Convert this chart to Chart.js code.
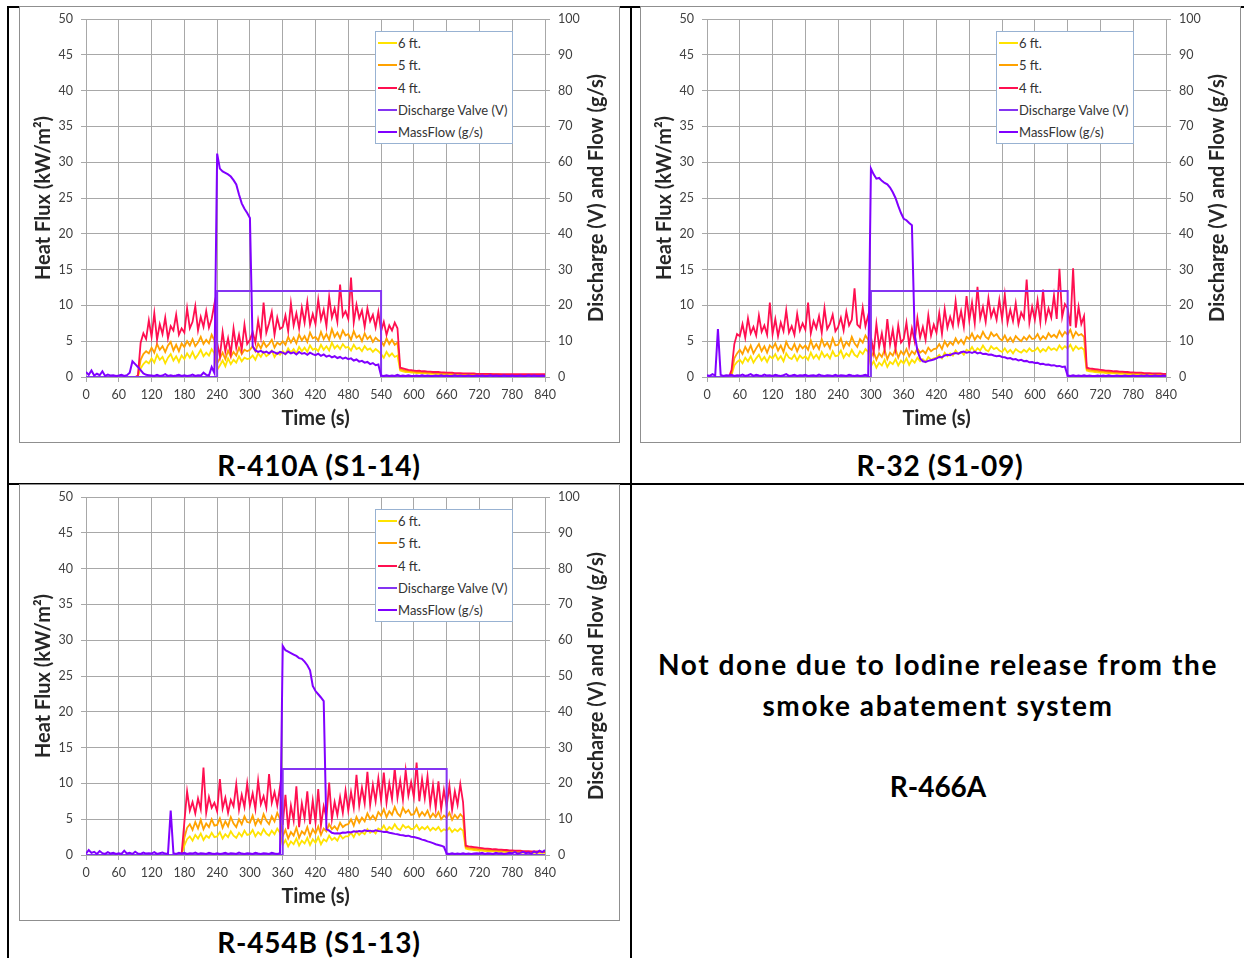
<!DOCTYPE html>
<html>
<head>
<meta charset="utf-8">
<script src="https://cdn.jsdelivr.net/npm/chart.js@4.4.1/dist/chart.umd.min.js"></script>
<style>
  body { margin: 0; width: 1244px; height: 958px; position: relative; overflow: hidden; background: #fff; font-family: Lato, "Open Sans", sans-serif; }
  .rule { position: absolute; background: #000; }
  .box { position: absolute; width: 599px; height: 435px; border: 1px solid #8f8f8f; background: #fff; }
  .box canvas { position: absolute; left: 0; top: 0; }
  .legend { position: absolute; left: 355px; top: 24px; width: 136px; height: 111px; border: 1px solid #98b2d2; background: #fff; font-size: 13px; color: #333; }
  .legend .item { height: 22.3px; display: flex; align-items: center; white-space: nowrap; }
  .legend .swatch { width: 19px; height: 2px; margin-left: 2px; margin-right: 1px; }
  .caption { position: absolute; font-weight: bold; font-size: 28px; line-height: 34px; color: #000; text-align: center; white-space: nowrap; }
  .caption.chart { letter-spacing: 0.8px; }
  .caption.note { letter-spacing: 1.6px; }
</style>
</head>
<body>

<div class="rule" style="left:7px;top:6px;width:2px;height:952px"></div>
<div class="rule" style="left:7px;top:6px;width:1237px;height:2px"></div>
<div class="rule" style="left:630px;top:6px;width:2px;height:952px"></div>
<div class="rule" style="left:7px;top:483px;width:1237px;height:2px"></div>

<div class="box" style="left:19px;top:6px"><canvas id="c410" width="599" height="435"></canvas><div class="legend" id="l410"></div></div>
<div class="box" style="left:640px;top:6px"><canvas id="c32" width="599" height="435"></canvas><div class="legend" id="l32"></div></div>
<div class="box" style="left:19px;top:484px"><canvas id="c454" width="599" height="435"></canvas><div class="legend" id="l454"></div></div>

<div class="caption chart" style="left:19px;width:600px;top:448px">R-410A (S1-14)</div>
<div class="caption chart" style="left:640px;width:600px;top:448px">R-32 (S1-09)</div>
<div class="caption chart" style="left:19px;width:600px;top:925px">R-454B (S1-13)</div>

<div class="caption note" style="left:632px;width:612px;top:647px">Not done due to Iodine release from the</div>
<div class="caption note" style="left:632px;width:612px;top:688px">smoke abatement system</div>
<div class="caption" style="left:632px;width:612px;top:769px">R-466A</div>

<script>
// time base, seconds (one row = one minute)
const times = [
  0,5,10,15,20,25,30,35,40,45,50,55,
  60,65,70,75,80,85,90,95,100,105,110,115,
  120,125,130,135,140,145,150,155,160,165,170,175,
  180,185,190,195,200,205,210,215,220,225,230,235,
  240,245,250,255,260,265,270,275,280,285,290,295,
  300,305,310,315,320,325,330,335,340,345,350,355,
  360,365,370,375,380,385,390,395,400,405,410,415,
  420,425,430,435,440,445,450,455,460,465,470,475,
  480,485,490,495,500,505,510,515,520,525,530,535,
  540,545,550,555,560,565,570,575,580,585,590,595,
  600,605,610,615,620,625,630,635,640,645,650,655,
  660,665,670,675,680,685,690,695,700,705,710,715,
  720,725,730,735,740,745,750,755,760,765,770,775,
  780,785,790,795,800,805,810,815,820,825,830,835,
  840
];

const timeTicks = [0,60,120,180,240,300,360,420,480,540,600,660,720,780,840];
const heatFluxTicks = [0,5,10,15,20,25,30,35,40,45,50];
const flowTicks = [0,10,20,30,40,50,60,70,80,90,100];

const seriesLabels = ['6 ft.', '5 ft.', '4 ft.', 'Discharge Valve (V)', 'MassFlow (g/s)'];

// ---- R-410A (S1-14) ----
const r410a6ft = [
  0,0,0,0,0,0,0,0,0,0,0,0,
  0,0,0,0,0,0,0,0.1,1.2,1.8,2.2,1.9,
  2.6,2.0,3.1,2.4,2.8,1.9,2.7,3.2,2.3,2.9,2.1,3.0,
  2.5,3.3,2.7,3.5,2.6,3.1,3.8,2.9,3.4,3.0,3.9,3.3,
  1.0,1.6,2.3,1.5,2.6,1.8,2.4,2.0,2.9,2.2,2.7,2.5,
  2.6,3.0,2.4,3.3,2.8,3.5,2.9,3.2,3.7,2.8,3.4,3.1,
  3.6,3.2,4.0,3.4,3.9,3.3,4.2,3.6,4.1,3.5,4.4,3.8,
  4.0,3.6,4.5,3.8,4.3,3.7,4.8,4.0,4.4,3.9,4.6,4.1,
  4.2,3.7,4.5,3.9,4.1,3.6,4.3,3.8,4.0,3.5,3.9,3.6,
  3.2,2.7,3.5,2.9,3.3,2.8,3.0,0.9,0.8,0.7,0.7,0.6,
  0.6,0.55,0.55,0.5,0.5,0.5,0.45,0.45,0.45,0.4,0.4,0.4,
  0.4,0.4,0.35,0.35,0.35,0.35,0.3,0.3,0.3,0.3,0.3,0.3,
  0.3,0.3,0.3,0.3,0.3,0.3,0.3,0.3,0.25,0.25,0.25,0.25,
  0.25,0.25,0.25,0.25,0.25,0.25,0.25,0.25,0.25,0.25,0.25,0.25,
  0.25
];
const r410a5ft = [
  0,0,0,0,0,0,0,0,0,0,0,0,
  0,0,0,0,0,0,0,0.1,2.4,3.2,3.6,3.3,
  4.1,3.4,4.6,3.8,4.3,3.5,4.4,4.9,3.7,4.5,3.6,4.7,
  4.2,5.0,4.4,5.3,4.3,4.8,5.6,4.6,5.2,4.7,5.9,5.1,
  1.9,2.6,3.4,2.5,3.7,2.8,3.5,3.0,4.1,3.2,3.8,3.6,
  3.8,4.3,3.6,4.7,4.0,4.9,4.2,4.6,5.2,4.1,4.8,4.5,
  5.0,4.5,5.6,4.8,5.5,4.7,5.9,5.1,5.7,4.9,6.2,5.4,
  5.6,5.1,6.3,5.3,6.0,5.2,6.7,5.6,6.2,5.4,6.5,5.8,
  6.0,5.2,6.4,5.5,5.8,5.0,6.1,5.3,5.7,4.9,5.5,5.1,
  5.0,4.4,5.4,4.6,5.2,4.5,4.8,1.1,1.0,0.9,0.85,0.8,
  0.75,0.7,0.7,0.65,0.65,0.6,0.6,0.55,0.55,0.55,0.5,0.5,
  0.5,0.5,0.45,0.45,0.45,0.45,0.4,0.4,0.4,0.4,0.4,0.4,
  0.4,0.4,0.35,0.35,0.35,0.35,0.35,0.35,0.3,0.3,0.3,0.3,
  0.3,0.3,0.3,0.3,0.3,0.3,0.3,0.3,0.3,0.3,0.3,0.3,
  0.3
];
const r410a4ft = [
  0,0,0,0,0,0,0,0,0,0,0,0,
  0,0,0,0,0,0,0,0.2,4.8,6.1,5.3,7.9,
  5.6,8.9,5.2,7.4,6.0,8.3,5.4,7.1,6.5,8.7,5.9,6.8,
  6.2,9.6,6.8,7.7,9.9,6.5,8.4,7.0,9.2,6.9,8.1,10.2,
  4.8,2.9,6.3,3.6,5.4,3.2,6.8,4.1,5.9,3.8,7.3,4.6,
  5.2,6.3,4.8,7.9,5.6,10.4,6.2,7.5,9.1,5.9,8.3,6.7,
  7.0,8.6,6.4,10.3,7.2,8.9,6.8,9.7,7.6,10.5,7.3,8.8,
  7.4,10.8,8.0,9.4,7.1,11.2,8.3,9.6,7.7,12.9,8.5,9.2,
  8.1,13.9,7.6,10.1,8.2,9.3,7.0,9.6,7.8,8.7,6.9,9.1,
  6.4,7.7,5.9,7.2,6.5,7.6,6.8,1.3,1.2,1.1,1.0,0.95,
  0.9,0.85,0.9,0.8,0.8,0.75,0.75,0.7,0.7,0.7,0.65,0.65,
  0.6,0.6,0.6,0.55,0.55,0.55,0.5,0.5,0.5,0.5,0.5,0.45,
  0.45,0.45,0.45,0.45,0.45,0.4,0.4,0.4,0.4,0.4,0.4,0.4,
  0.4,0.4,0.4,0.4,0.4,0.4,0.4,0.4,0.4,0.4,0.4,0.4,
  0.4
];
const r410aFlow = [
  1.4,0.6,1.8,0.4,0.9,0.5,1.6,0.3,0.7,0.4,0.5,0.3,
  0.4,0.6,0.3,0.5,1.2,4.4,3.6,2.8,1.9,1.0,0.6,0.5,
  0.4,0.3,0.6,0.3,0.4,0.8,0.3,0.5,0.3,0.4,0.6,0.3,
  0.5,0.3,0.4,0.7,0.3,0.5,0.4,1.2,0.6,0.4,2.8,1.1,
  62.4,58.2,57.4,57.0,56.6,56.0,55.0,53.8,51.0,48.5,47.0,45.8,
  44.4,8.6,7.4,7.0,7.3,6.8,7.1,6.6,7.2,6.9,6.5,7.0,
  6.8,6.4,7.1,6.6,6.9,6.3,7.0,6.5,6.7,6.2,6.8,6.4,
  6.1,6.5,5.9,6.3,5.7,6.0,5.5,5.8,5.3,5.6,5.1,5.4,
  5.0,5.2,4.6,4.9,4.3,4.5,4.0,4.2,3.6,3.9,3.3,3.5,
  0.4,0.3,0.5,0.3,0.4,0.3,0.6,0.3,0.4,0.3,0.5,0.3,
  0.3,0.4,0.3,0.5,0.3,0.4,0.3,0.3,0.4,0.3,0.5,0.3,
  0.4,0.3,0.3,0.5,0.3,0.4,0.3,0.3,0.4,0.3,0.3,0.4,
  0.3,0.4,0.3,0.3,0.5,0.3,0.4,0.3,0.3,0.4,0.3,0.3,
  0.4,0.3,0.3,0.4,0.3,0.3,0.5,0.3,0.4,0.3,0.3,0.4,
  0.3
];
const r410aValveTimes = [0, 240, 540, 840];
const r410aValveVolts = [0, 24, 0, 0];

// ---- R-32 (S1-09) ----
const r32_6ft = [
  0,0,0,0,0,0,0,0,0,0.3,1.6,2.1,
  2.4,1.9,2.7,2.2,2.9,2.0,2.6,3.1,2.3,2.8,2.1,2.9,
  2.6,3.2,2.4,2.9,2.2,3.3,2.7,2.5,3.1,2.3,3.0,2.6,
  2.9,2.4,3.4,2.6,3.1,2.5,3.5,2.8,3.2,2.6,3.6,2.9,
  3.0,3.7,2.7,3.3,2.9,3.8,3.1,2.8,3.6,3.2,3.9,3.5,
  1.5,2.2,1.3,2.0,1.6,2.4,1.4,2.1,1.8,2.5,1.6,2.3,
  1.9,2.6,1.7,2.4,2.0,2.7,2.2,2.5,2.1,2.8,2.4,2.6,
  2.7,3.1,2.6,3.4,2.9,3.3,3.0,3.7,3.2,3.5,3.1,3.8,
  3.6,4.2,3.5,4.0,3.7,4.4,3.8,3.6,4.3,3.9,4.1,3.7,
  3.5,4.0,3.4,3.8,3.3,3.9,3.6,3.4,3.8,3.5,4.0,3.6,
  3.7,4.1,3.5,3.9,3.6,4.2,3.8,4.0,3.7,4.4,3.9,4.3,
  4.0,4.5,3.7,4.3,3.9,4.1,3.8,0.9,0.8,0.75,0.7,0.65,
  0.6,0.6,0.55,0.55,0.5,0.5,0.5,0.45,0.45,0.45,0.4,0.4,
  0.4,0.4,0.35,0.35,0.35,0.35,0.35,0.3,0.3,0.3,0.3,0.3,
  0.3
];
const r32_5ft = [
  0,0,0,0,0,0,0,0,0,0.5,2.6,3.3,
  3.8,3.2,4.2,3.5,4.4,3.3,4.0,4.6,3.6,4.3,3.4,4.4,
  4.0,4.7,3.7,4.4,3.5,4.9,4.1,3.8,4.6,3.6,4.5,4.0,
  4.4,3.8,5.1,4.0,4.6,3.9,5.3,4.3,4.8,4.0,5.4,4.4,
  4.5,5.4,4.1,4.9,4.4,5.6,4.7,4.2,5.3,4.8,5.8,5.2,
  2.7,3.5,2.4,3.3,2.8,3.8,2.5,3.4,3.0,3.9,2.7,3.6,
  3.1,3.9,2.9,3.6,3.2,4.0,3.4,3.7,3.3,4.1,3.6,3.9,
  4.0,4.6,3.9,5.0,4.3,4.9,4.5,5.4,4.7,5.2,4.6,5.6,
  5.3,6.1,5.2,5.8,5.4,6.3,5.6,5.3,6.2,5.7,6.0,5.4,
  5.1,5.8,5.0,5.5,4.9,5.7,5.3,5.0,5.6,5.2,5.8,5.3,
  5.4,6.0,5.2,5.7,5.3,6.1,5.6,5.9,5.5,6.4,5.7,6.3,
  5.9,6.6,5.5,6.3,5.8,6.0,5.6,1.1,1.0,0.95,0.9,0.85,
  0.8,0.8,0.75,0.7,0.7,0.65,0.65,0.6,0.6,0.6,0.55,0.55,
  0.5,0.5,0.5,0.5,0.45,0.45,0.45,0.45,0.4,0.4,0.4,0.4,
  0.4
];
const r32_4ft = [
  0,0,0,0,0,0,0,0,0,1.0,4.6,6.0,
  5.7,7.4,5.5,8.2,6.1,7.0,5.8,8.6,6.3,7.2,5.9,10.4,
  6.0,8.1,5.7,7.6,6.4,9.3,6.2,7.1,5.9,8.8,6.5,7.5,
  6.6,10.4,6.1,7.8,6.8,8.5,6.2,9.6,6.7,7.4,8.7,6.4,
  7.0,8.3,6.5,9.1,7.2,8.0,12.4,7.3,6.9,9.7,7.1,8.6,
  5.6,3.4,7.4,4.2,6.1,3.8,8.1,4.5,6.6,3.9,7.2,4.8,
  5.3,7.6,4.4,6.8,5.0,8.2,5.5,7.0,5.2,8.6,5.8,7.3,
  6.2,8.9,6.0,9.5,6.9,8.4,7.1,10.6,7.4,9.2,7.0,11.3,
  7.9,10.4,7.5,12.6,8.2,9.8,7.7,11.0,8.4,9.5,8.0,10.8,
  8.1,11.5,7.6,9.4,7.8,10.3,7.4,9.0,8.2,13.6,7.6,9.8,
  8.0,10.7,7.7,12.2,7.9,9.6,8.3,11.4,8.1,15.1,8.4,10.2,
  9.6,7.1,15.2,6.9,9.8,7.4,8.5,1.3,1.2,1.15,1.1,1.05,
  1.0,0.95,0.9,0.9,0.85,0.8,0.8,0.75,0.75,0.7,0.7,0.65,
  0.65,0.6,0.6,0.6,0.55,0.55,0.55,0.5,0.5,0.5,0.5,0.45,
  0.45
];
const r32Flow = [
  0.5,0.3,0.8,0.4,13.4,0.6,0.3,0.5,0.4,0.6,0.3,0.5,
  0.4,0.7,0.3,0.5,0.8,0.3,0.6,0.4,0.3,0.7,0.4,0.5,
  0.3,0.6,0.4,0.3,0.5,0.8,0.3,0.4,0.6,0.3,0.5,0.4,
  0.6,0.3,0.4,0.5,0.3,0.7,0.4,0.3,0.5,0.4,0.3,0.6,
  0.3,0.5,0.4,0.3,0.6,0.4,0.3,0.5,0.3,0.4,0.6,0.3,
  58.2,56.6,55.4,55.6,54.8,54.2,53.8,52.9,51.6,50.0,47.8,45.8,
  44.2,43.8,43.0,42.4,12.0,7.4,5.2,4.4,4.2,4.5,4.7,4.9,
  5.2,5.6,5.5,6.0,6.2,6.1,6.5,6.7,6.5,6.9,7.1,6.8,
  7.0,6.7,7.1,6.6,6.8,6.4,6.5,6.2,6.3,6.0,5.8,5.9,
  5.6,5.5,5.2,5.3,4.9,5.0,4.6,4.8,4.4,4.5,4.1,4.2,
  3.9,4.0,3.6,3.7,3.4,3.5,3.2,3.3,3.0,3.1,2.8,2.9,
  0.4,0.3,0.5,0.3,0.4,0.3,0.5,0.3,0.4,0.3,0.3,0.4,
  0.3,0.4,0.3,0.5,0.3,0.3,0.4,0.3,0.3,0.4,0.3,0.3,
  0.4,0.3,0.3,0.4,0.3,0.5,0.3,0.3,0.4,0.3,0.3,0.4,
  0.3
];
const r32ValveTimes = [0, 300, 660, 840];
const r32ValveVolts = [0, 24, 0, 0];

// ---- R-454B (S1-13) ----
const r454b6ft = [
  0,0,0,0,0,0,0,0,0,0,0,0,
  0,0,0,0,0,0,0,0,0,0,0,0,
  0,0,0,0,0,0,0,0,0,0,0,0.1,
  1.3,2.2,2.6,2.0,2.8,2.3,3.0,2.1,2.7,2.4,3.1,2.5,
  2.6,3.2,2.3,2.9,2.5,3.3,2.7,2.4,3.1,2.6,3.4,2.8,
  2.9,3.5,2.6,3.2,2.8,3.6,3.0,2.7,3.4,2.9,3.7,3.1,
  1.4,2.1,1.2,1.9,1.5,2.3,1.3,2.0,1.6,2.4,1.4,2.2,
  1.7,2.5,1.5,2.2,1.9,2.7,2.1,2.4,2.0,2.8,2.3,2.6,
  2.6,3.1,2.5,3.3,2.8,3.2,2.9,3.6,3.1,3.4,3.0,3.7,
  3.5,4.1,3.4,3.9,3.6,4.3,3.7,3.5,4.2,3.8,4.0,3.6,
  3.7,4.2,3.5,3.9,3.6,4.0,3.4,3.8,3.5,3.9,3.3,3.6,
  3.4,3.8,3.2,3.6,3.3,3.7,3.4,0.9,0.8,0.75,0.7,0.65,
  0.6,0.6,0.55,0.55,0.5,0.5,0.5,0.45,0.45,0.45,0.4,0.4,
  0.4,0.4,0.35,0.35,0.35,0.35,0.3,0.3,0.3,0.3,0.3,0.3,
  0.3
];
const r454b5ft = [
  0,0,0,0,0,0,0,0,0,0,0,0,
  0,0,0,0,0,0,0,0,0,0,0,0,
  0,0,0,0,0,0,0,0,0,0,0,0.1,
  2.4,3.8,4.3,3.5,4.6,3.7,4.9,3.6,4.4,3.9,5.0,4.1,
  4.2,5.1,3.8,4.7,4.0,5.3,4.4,3.9,5.0,4.3,5.4,4.6,
  4.5,5.5,4.2,5.0,4.4,5.7,4.8,4.3,5.4,4.7,5.9,5.0,
  2.6,3.5,2.3,3.2,2.7,3.8,2.4,3.3,2.9,3.9,2.6,3.6,
  3.0,4.0,2.8,3.7,3.3,4.3,3.6,4.0,3.5,4.5,3.9,4.2,
  4.3,5.0,4.1,5.3,4.5,5.2,4.7,5.8,5.0,5.5,4.9,6.0,
  5.5,6.4,5.3,6.1,5.6,6.7,5.8,5.4,6.6,5.9,6.3,5.6,
  5.7,6.5,5.4,6.0,5.5,6.2,5.2,5.8,5.3,6.0,5.0,5.5,
  5.2,5.9,4.9,5.6,5.1,5.7,5.3,1.1,1.0,0.95,0.9,0.85,
  0.8,0.8,0.75,0.7,0.7,0.65,0.65,0.6,0.6,0.6,0.55,0.55,
  0.5,0.5,0.5,0.45,0.45,0.45,0.45,0.4,0.4,0.4,0.4,0.4,
  0.4
];
const r454b4ft = [
  0,0,0,0,0,0,0,0,0,0,0,0,
  0,0,0,0,0,0,0,0,0,0,0,0,
  0,0,0,0,0,0,0,0,0,0,0,0.2,
  4.6,8.9,6.2,7.4,5.8,7.9,6.4,12.2,5.9,8.1,6.6,7.3,
  6.1,10.6,6.5,8.0,5.9,7.7,6.8,9.9,6.3,8.4,6.7,10.0,
  6.9,8.6,6.4,10.4,7.1,8.2,6.6,11.3,7.3,8.8,6.9,9.5,
  4.2,8.4,3.6,6.9,4.8,9.6,3.9,7.2,5.1,8.9,4.3,7.6,
  4.6,9.2,4.1,6.8,5.2,10.1,5.0,7.4,5.6,8.1,5.9,9.0,
  6.2,8.8,6.6,11.2,6.9,9.4,7.2,11.6,7.0,9.8,7.5,10.7,
  7.6,11.5,7.3,10.0,7.8,12.1,8.0,10.4,7.7,11.8,8.3,10.2,
  8.1,12.9,7.5,10.6,7.9,11.0,7.0,9.8,6.6,10.3,6.4,9.1,
  6.8,9.7,6.3,8.9,7.0,9.9,7.4,1.3,1.2,1.15,1.1,1.05,
  1.0,0.95,0.9,0.9,0.85,0.8,0.8,0.75,0.75,0.7,0.7,0.65,
  0.65,0.6,0.6,0.6,0.55,0.55,0.55,0.5,0.5,0.5,0.5,0.45,
  0.45
];
const r454bFlow = [
  0.4,1.4,0.6,0.9,0.3,1.1,0.5,0.3,0.8,0.4,0.6,0.3,
  0.5,0.3,1.2,0.4,0.6,0.3,0.9,0.4,0.3,0.7,0.4,0.5,
  0.4,0.8,0.3,0.5,0.7,0.4,0.3,12.4,0.5,0.3,0.6,0.4,
  0.6,0.3,0.5,0.4,0.7,0.3,0.5,0.4,0.3,0.6,0.4,0.3,
  0.5,0.3,0.4,0.6,0.3,0.5,0.4,0.3,0.7,0.4,0.3,0.5,
  0.4,0.3,0.6,0.4,0.3,0.5,0.4,0.3,0.6,0.4,0.3,0.5,
  58.4,57.2,56.8,56.4,56.0,55.6,55.0,54.8,54.0,53.0,51.6,47.2,
  45.8,44.9,44.0,43.0,7.2,6.8,6.2,6.0,6.1,6.0,6.3,6.2,
  6.4,6.3,6.6,6.5,6.7,6.6,6.9,6.7,6.8,6.6,6.9,6.7,
  6.6,6.4,6.5,6.2,6.1,5.9,5.8,5.6,5.5,5.3,5.4,5.1,
  5.0,4.8,4.6,4.3,4.1,3.8,3.6,3.3,3.0,2.8,2.6,2.3,
  0.4,0.3,0.5,0.3,0.4,0.3,0.5,0.3,0.4,0.3,0.4,0.5,
  0.4,0.6,0.3,0.5,0.4,0.3,0.6,0.4,0.5,0.3,0.4,0.6,
  0.5,0.8,0.4,0.6,0.9,0.5,0.7,0.4,1.0,0.6,1.2,0.8,
  1.4
];
const r454bValveTimes = [0, 360, 660, 840];
const r454bValveVolts = [0, 24, 0, 0];

// sanity check on hand-typed lengths
const named = { r410a6ft, r410a5ft, r410a4ft, r410aFlow, r32_6ft, r32_5ft, r32_4ft, r32Flow, r454b6ft, r454b5ft, r454b4ft, r454bFlow };
const bad = Object.keys(named).filter(k => named[k].length !== times.length).map(k => k + '=' + named[k].length);
if (bad.length) throw new Error('length mismatch (want ' + times.length + '): ' + bad.join(', '));

const colors = ['#ffe300', '#ffa200', '#ff0f50', '#8434f2', '#8000ff'];
const gridColor = '#a8a8a8';
const tickColor = '#404040';
const titleColor = '#262626';

Chart.defaults.font.family = 'Lato, "Open Sans", sans-serif';

function pts(xs, ys) { return xs.map((x, i) => ({ x: x, y: ys[i] })); }

// right axis title reads bottom-to-top like the left one
const rightTitle = {
  id: 'rightTitle',
  afterDraw(chart, args, opts) {
    const ctx = chart.ctx, a = chart.chartArea;
    ctx.save();
    ctx.translate(a.right + 52, (a.top + a.bottom) / 2);
    ctx.rotate(-Math.PI / 2);
    ctx.font = 'bold 20px Lato, "Open Sans", sans-serif';
    ctx.fillStyle = titleColor;
    ctx.textAlign = 'center';
    ctx.textBaseline = 'middle';
    ctx.fillText(opts.text, 0, 0);
    ctx.restore();
  }
};

function setTicks(values) {
  return scale => { scale.ticks = values.map(v => ({ value: v })); };
}

// fixed axis box so every panel has the same plot rectangle
function fixY(width) {
  return s => { s.width = width; s.paddingTop = 12; s.paddingBottom = 0; };
}

function makeChart(canvasId, legendId, s6, s5, s4, valveT, valveV, flow) {
  const datasets = [
    { label: seriesLabels[0], data: pts(times, s6), borderColor: colors[0], borderWidth: 1.8, yAxisID: 'y', order: 4 },
    { label: seriesLabels[1], data: pts(times, s5), borderColor: colors[1], borderWidth: 1.8, yAxisID: 'y', order: 3 },
    { label: seriesLabels[2], data: pts(times, s4), borderColor: colors[2], borderWidth: 1.8, yAxisID: 'y', order: 2 },
    { label: seriesLabels[3], data: pts(valveT, valveV), borderColor: colors[3], borderWidth: 2, yAxisID: 'y2', stepped: 'before', order: 1 },
    { label: seriesLabels[4], data: pts(times, flow), borderColor: colors[4], borderWidth: 2, yAxisID: 'y2', order: 0 }
  ];
  datasets.forEach(d => { d.pointRadius = 0; d.tension = 0; d.fill = false; });

  new Chart(document.getElementById(canvasId), {
    type: 'line',
    data: { datasets: datasets },
    options: {
      responsive: false,
      animation: false,
      devicePixelRatio: 1,
      layout: { padding: { top: 12, left: 0, right: 0, bottom: 0 } },
      plugins: { legend: { display: false }, tooltip: { enabled: false }, rightTitle: { text: 'Discharge (V) and Flow (g/s)' } },
      scales: {
        x: {
          type: 'linear', min: 0, max: 840,
          afterBuildTicks: setTicks(timeTicks),
          afterFit(s) { s.height = 65; },
          ticks: { color: tickColor, font: { size: 12.5 }, padding: 5, maxRotation: 0, autoSkip: false },
          grid: { color: gridColor, tickColor: gridColor, tickLength: 5 },
          border: { color: gridColor },
          title: { display: true, text: 'Time (s)', color: titleColor, font: { size: 20, weight: 'bold' }, padding: { top: 0, bottom: 11 } }
        },
        y: {
          position: 'left', min: 0, max: 50,
          afterBuildTicks: setTicks(heatFluxTicks),
          afterFit: fixY(66),
          ticks: { color: tickColor, font: { size: 12.5 }, padding: 8 },
          grid: { color: gridColor, tickColor: gridColor, tickLength: 5 },
          border: { color: gridColor },
          title: { display: true, text: 'Heat Flux (kW/m²)', color: titleColor, font: { size: 20, weight: 'bold' }, padding: { top: 12, bottom: 0 } }
        },
        y2: {
          position: 'right', min: 0, max: 100,
          afterBuildTicks: setTicks(flowTicks),
          afterFit: fixY(74),
          ticks: { color: tickColor, font: { size: 12.5 }, padding: 8 },
          grid: { drawOnChartArea: false, color: gridColor, tickColor: gridColor, tickLength: 5 },
          border: { color: gridColor }
        }
      }
    },
    plugins: [rightTitle]
  });

  const legend = document.getElementById(legendId);
  datasets.forEach(d => {
    const item = document.createElement('div');
    item.className = 'item';
    const sw = document.createElement('span');
    sw.className = 'swatch';
    sw.style.background = d.borderColor;
    const tx = document.createElement('span');
    tx.textContent = d.label;
    item.appendChild(sw);
    item.appendChild(tx);
    legend.appendChild(item);
  });
}

makeChart('c410', 'l410', r410a6ft, r410a5ft, r410a4ft, r410aValveTimes, r410aValveVolts, r410aFlow);
makeChart('c32', 'l32', r32_6ft, r32_5ft, r32_4ft, r32ValveTimes, r32ValveVolts, r32Flow);
makeChart('c454', 'l454', r454b6ft, r454b5ft, r454b4ft, r454bValveTimes, r454bValveVolts, r454bFlow);
</script>
</body>
</html>
